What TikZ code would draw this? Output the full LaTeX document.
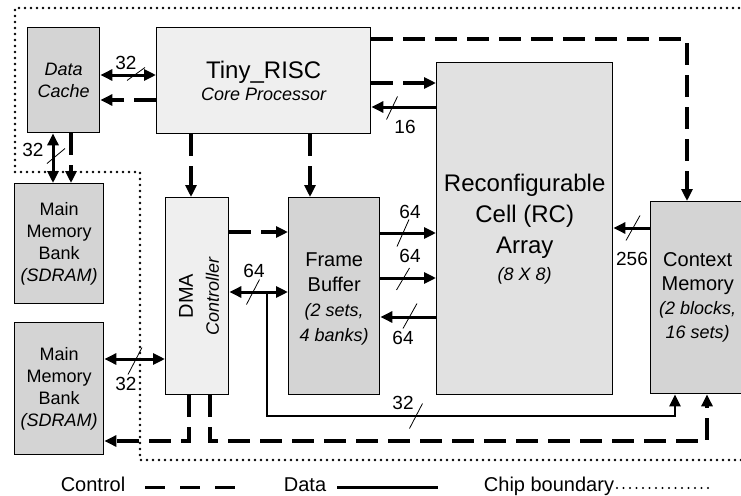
\documentclass[tikz,border=0pt]{standalone}
\usepackage{fontspec}
\setmainfont{Liberation Sans}
\usetikzlibrary{arrows.meta}
\definecolor{boxdark}{HTML}{D4D4D4}
\definecolor{boxlight}{HTML}{EFEFEF}
\definecolor{boxmid}{HTML}{E1E1E1}
\newcommand\fsz[2]{\fontsize{#1}{#2}\selectfont}
\newcommand\tk[4]{\draw[tick] ({#1-#3/2},{#2+#4/2}) -- ({#1+#3/2},{#2-#4/2});}
\begin{document}
\begin{tikzpicture}[x=1pt,y=-1pt,
  >={Triangle[length=12pt,width=11pt]},
  box/.style={draw, line width=1.4pt, inner sep=0pt, align=center, anchor=north west},
  dk/.style={box, fill=boxdark},
  lt/.style={box, fill=boxlight},
  md/.style={box, fill=boxmid},
  ctl/.style={line width=3.2pt, dash pattern=on 22pt off 10pt, ->},
  dat/.style={line width=3pt},
  tick/.style={line width=0.8pt},
  lbl/.style={font=\fsz{19}{21}, inner sep=0pt},
  bound/.style={line width=2.7pt, line cap=round, dash pattern=on 0pt off 6pt},
  leg/.style={font=\fsz{20}{22}, inner sep=0pt, anchor=base}]
\useasboundingbox (0,0) rectangle (741,495);
% chip boundary
\draw[bound] (745,8) -- (15,8) -- (15,172) -- (140,172) -- (140,460) -- (745,460);
% boxes
\node[dk, minimum width=72pt, minimum height=105pt, font=\fsz{18}{22}\itshape] (dc) at (27,27) {Data\\Cache};
\node[lt, minimum width=214pt, minimum height=106pt, font=\fsz{18}{22}] (tr) at (156,27) {{\fsz{24}{22}Tiny\_RISC}\\{\itshape Core Processor}};
\node[md, minimum width=176pt, minimum height=332pt, font=\fsz{24}{31}] (rc) at (436,62) {Reconfigurable\\Cell (RC)\\Array\\[-4pt]{\fsz{18}{22}\itshape (8 X 8)}};
\node[dk, minimum width=91pt, minimum height=197pt, font=\fsz{20}{25}] (fb) at (288,197) {\\[-6pt]Frame\\Buffer\\{\fsz{18}{25}\itshape (2 sets,}\\{\fsz{18}{25}\itshape 4 banks)}};
\node[dk, minimum width=94pt, minimum height=192pt, font=\fsz{20}{24}] (cm) at (650,201) {Context\\Memory\\{\fsz{18}{24}\itshape (2 blocks,}\\{\fsz{18}{24}\itshape 16 sets)}};
\node[lt, minimum width=63pt, minimum height=197pt] (dma) at (165,197) {};
\node[rotate=90, align=center, inner sep=0pt, font=\fsz{20}{26}] (dmat) at ([xshift=2pt]dma.center) {DMA\\{\fsz{18}{26}\itshape Controller}};
\node[dk, minimum width=89pt, minimum height=120pt, font=\fsz{18}{22}] (mm1) at (14,183) {Main\\Memory\\Bank\\{\itshape (SDRAM)}};
\node[dk, minimum width=89pt, minimum height=132pt, font=\fsz{18}{22}] (mm2) at (14,322) {Main\\Memory\\Bank\\{\itshape (SDRAM)}};
% Data cache <-> Tiny_RISC
\draw[dat,<->] (tr.west |- 0,75) -- (dc.east |- 0,75);
\draw[ctl] (tr.west |- 0,100) -- (dc.east |- 0,100);
\node[lbl] (n32a) at (126,63) {32}; \tk{136}{74}{18}{13}
% Data cache <-> main memory
\draw[dat,<->] (dc.south -| 53,0) -- (mm1.north -| 53,0);
\draw[ctl] (dc.south -| 71,0) -- (mm1.north -| 71,0);
\node[lbl] (n32b) at (33,150) {32}; \tk{56}{156}{18}{15}
% Tiny_RISC -> DMA, FB
\draw[ctl] (tr.south -| 191,0) -- (dma.north -| 191,0);
\draw[ctl] (tr.south -| 310,0) -- (fb.north -| 310,0);
% Tiny_RISC <-> RC
\draw[ctl] (tr.east |- 0,83) -- (rc.west |- 0,83);
\draw[dat,->] (rc.west |- 0,107) -- (tr.east |- 0,107);
\tk{392}{108}{11}{23}
\node[lbl] (n16) at (405,127) {16};
% Tiny_RISC -> Context memory
\coordinate (c1) at (687,39);
\draw[ctl] (tr.east |- c1) -- (c1) -- (cm.north -| c1);
% DMA <-> FB
\draw[ctl] (dma.east |- 0,232) -- (fb.west |- 0,232);
\draw[dat,<->] (dma.east |- 0,292) -- (fb.west |- 0,292);
\node[lbl] (n64a) at (254,271) {64}; \tk{253}{292}{13}{25}
% junction -> Context memory
\coordinate (j) at (267,292);
\coordinate (c2) at (267,416);
\coordinate (c3) at (675,416);
\draw[line width=2.5pt,->] (j) -- (c2) -- (c3) -- (cm.south -| c3);
\node[lbl] (n32c) at (403,403) {32}; \tk{416}{416}{13}{25}
% FB <-> RC
\draw[dat,->] (fb.east |- 0,233) -- (rc.west |- 0,233);
\node[lbl] (n64b) at (410,212) {64}; \tk{403}{233}{12}{27}
\draw[dat,->] (fb.east |- 0,278) -- (rc.west |- 0,278);
\node[lbl] (n64c) at (410,256) {64}; \tk{403}{279}{13}{22}
\draw[dat,->] (rc.west |- 0,317) -- (fb.east |- 0,317);
\node[lbl] (n64d) at (403,338) {64}; \tk{410}{316}{14}{25}
% CM -> RC
\draw[dat,->] (cm.west |- 0,228) -- (rc.east |- 0,228);
\node[lbl] (n256) at (632,259) {256}; \tk{633}{228}{14}{25}
% MM2 <-> DMA
\draw[dat,<->] (mm2.east |- 0,359) -- (dma.west |- 0,359);
\node[lbl] (n32d) at (126,384) {32}; \tk{135}{361}{14}{27}
% DMA control outputs
\coordinate (d1) at (189,441);
\draw[ctl] (dma.south -| d1) -- (d1) -- (mm2.east |- d1);
\coordinate (d2) at (210,441);
\coordinate (d3) at (707,441);
\draw[ctl] (dma.south -| d2) -- (d2) -- (d3) -- (cm.south -| d3);
% legend
\node[leg] (lgc) at (93,491) {Control};
\coordinate (lc1) at (145,487); \coordinate (lc2) at (238,487);
\draw[line width=3pt, dash pattern=on 20pt off 15pt] (lc1) -- (lc2);
\node[leg] (lgd) at (305,491) {Data};
\coordinate (ld1) at (337,487); \coordinate (ld2) at (438,487);
\draw[line width=3pt] (ld1) -- (ld2);
\node[leg] (lgb) at (549,491) {Chip boundary};
\coordinate (lb1) at (617,488); \coordinate (lb2) at (712,488);
\draw[line width=2.2pt, line cap=round, dash pattern=on 0pt off 6.5pt] (lb1) -- (lb2);
\end{tikzpicture}
\end{document}
